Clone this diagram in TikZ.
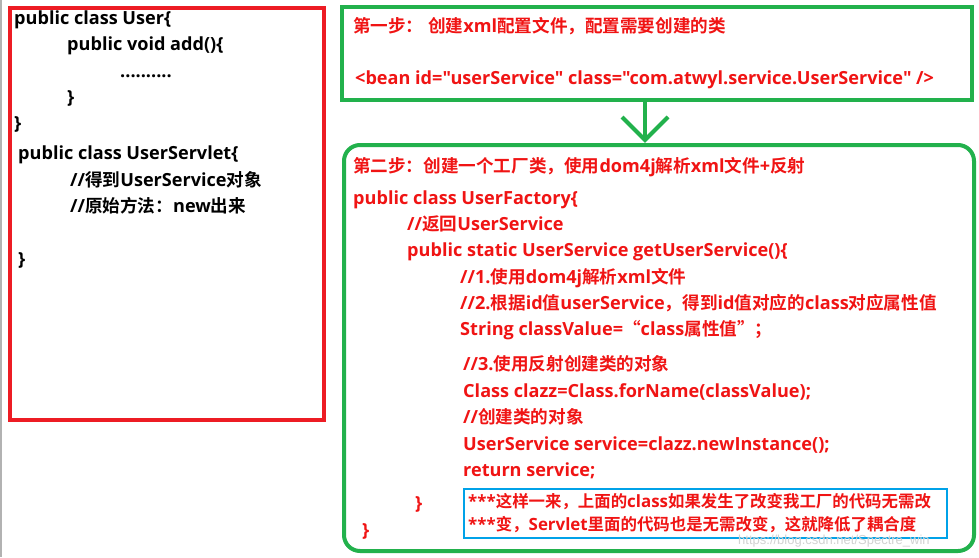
\documentclass[tikz,border=0pt]{standalone}
\usepackage{fontspec}
\newfontfamily\latf{Open Sans}
\newfontfamily\cjkfont{Noto Sans CJK SC}[Scale=0.972, BoldFont={Noto Sans CJK SC Bold}]
\newfontfamily\wmf{Liberation Sans}
\XeTeXinterchartokenstate=1
\newXeTeXintercharclass\cjkcls
\newcount\cjkcc
\cjkcc="3000 \loop \XeTeXcharclass\cjkcc=\cjkcls \advance\cjkcc by 1 \ifnum\cjkcc<"3040 \repeat
\cjkcc="4E00 \loop \XeTeXcharclass\cjkcc=\cjkcls \advance\cjkcc by 1 \ifnum\cjkcc<"A000 \repeat
\cjkcc="FF00 \loop \XeTeXcharclass\cjkcc=\cjkcls \advance\cjkcc by 1 \ifnum\cjkcc<"FFF0 \repeat
\XeTeXcharclass"201C=\cjkcls
\XeTeXcharclass"201D=\cjkcls
\XeTeXinterchartoks 0 \cjkcls = {\begingroup\cjkfont}
\XeTeXinterchartoks 4095 \cjkcls = {\begingroup\cjkfont}
\XeTeXinterchartoks \cjkcls 0 = {\endgroup}
\XeTeXinterchartoks \cjkcls 4095 = {\endgroup}
\definecolor{pred}{RGB}{237,28,36}
\definecolor{pgreen}{RGB}{34,177,76}
\definecolor{pblue}{RGB}{0,162,232}
\definecolor{tred}{RGB}{240,20,20}
\begin{document}
\begin{tikzpicture}[x=1pt,y=-1pt,
  txt/.style={inner sep=0pt, anchor=base west, font=\latf\fontsize{18.1}{20}\selectfont\bfseries},
  blk/.style={txt, text=black},
  rtx/.style={txt, text=tred},
  sml/.style={inner sep=0pt, anchor=base west, font=\latf\fontsize{16.9}{18}\selectfont\bfseries, text=tred},
  boxnode/.style={draw, inner sep=0pt, anchor=north west}]
\path[fill=white] (0,0) rectangle (979,557);
\useasboundingbox (0,0) rectangle (979,557);
\draw[gray!60, line width=1.5pt] (1,0) -- (1,557);
% red box
\node[boxnode, draw=pred, line width=4pt, minimum width=314pt, minimum height=412pt] (redbox) at (8,6) {};
% green box 1
\node[boxnode, draw=pgreen, line width=4pt, minimum width=630pt, minimum height=93pt] (gbox1) at (340,5) {};
% green box 2
\node[boxnode, draw=pgreen, line width=4pt, rounded corners=16pt, minimum width=630pt, minimum height=406pt] (gbox2) at (342,143) {};
% blue box
\node[boxnode, draw=pblue, line width=2.2pt, minimum width=483pt, minimum height=49pt] (bbox) at (463,488) {};
% arrow
\coordinate (a0) at (645,98);
\coordinate (a1) at (645,140);
\draw[pgreen, line width=4pt] (a0) -- (a1);
\draw[pgreen, line width=4pt, line join=miter] (622,117) -- (a1) -- (668,117);
% left box text
\node[blk] (l1) at (14,24.5) {public class User\{};
\node[blk] (l2) at (67,50.5) {public void add()\{};
\node[blk] (l3) at (120,77.5) {..........};
\node[blk] (l4) at (67,103.5) {\}};
\node[blk] (l5) at (14,129.5) {\}};
\node[blk] (l6) at (18,159.5) {public class UserServlet\{};
\node[blk] (l7) at (70,186.5) {//得到UserService对象};
\node[blk] (l8) at (70,212.5) {//原始方法：new出来};
\node[blk] (l9) at (18,265.5) {\}};
% green box 1 text
\node[rtx] (s1) at (353,32.5) {第一步： 创建xml配置文件，配置需要创建的类};
\node[rtx] (s2) at (355,84.5) {<bean id="userService" class="com.atwyl.service.UserService" />};
% green box 2 text
\node[rtx] (t1) at (353,172.5) {第二步：创建一个工厂类，使用dom4j解析xml文件+反射};
\node[rtx] (t2) at (353,204.5) {public class UserFactory\{};
\node[rtx] (t3) at (407,230.5) {//返回UserService};
\node[rtx] (t4) at (407,256.5) {public static UserService getUserService()\{};
\node[rtx] (t5) at (460,283.5) {//1.使用dom4j解析xml文件};
\node[rtx] (t6) at (460,309.5) {//2.根据id值userService，得到id值对应的class对应属性值};
\node[rtx] (t7) at (460,335.5) {String classValue=“class属性值”；};
\node[rtx] (t8) at (463,370.5) {//3.使用反射创建类的对象};
\node[rtx] (t9) at (463,397.5) {Class clazz=Class.forName(classValue);};
\node[rtx] (t10) at (463,423.5) {//创建类的对象};
\node[rtx] (t11) at (463,450.5) {UserService service=clazz.newInstance();};
\node[rtx] (t12) at (463,476.5) {return service;};
\node[rtx] (t13) at (415,509.5) {\}};
\node[rtx] (t14) at (362,536.5) {\}};
\node[sml] (b1) at (468,507.5) {***这样一来，上面的class如果发生了改变我工厂的代码无需改};
\node[sml] (b2) at (468,530.5) {***变，Servlet里面的代码也是无需改变，这就降低了耦合度};
% watermark
\node[inner sep=0pt, anchor=base west, font=\wmf\fontsize{13}{14}\selectfont, text=gray!35] (wm) at (738,544) {https://blog.csdn.net/Spectre\_win};
\end{tikzpicture}
\end{document}
